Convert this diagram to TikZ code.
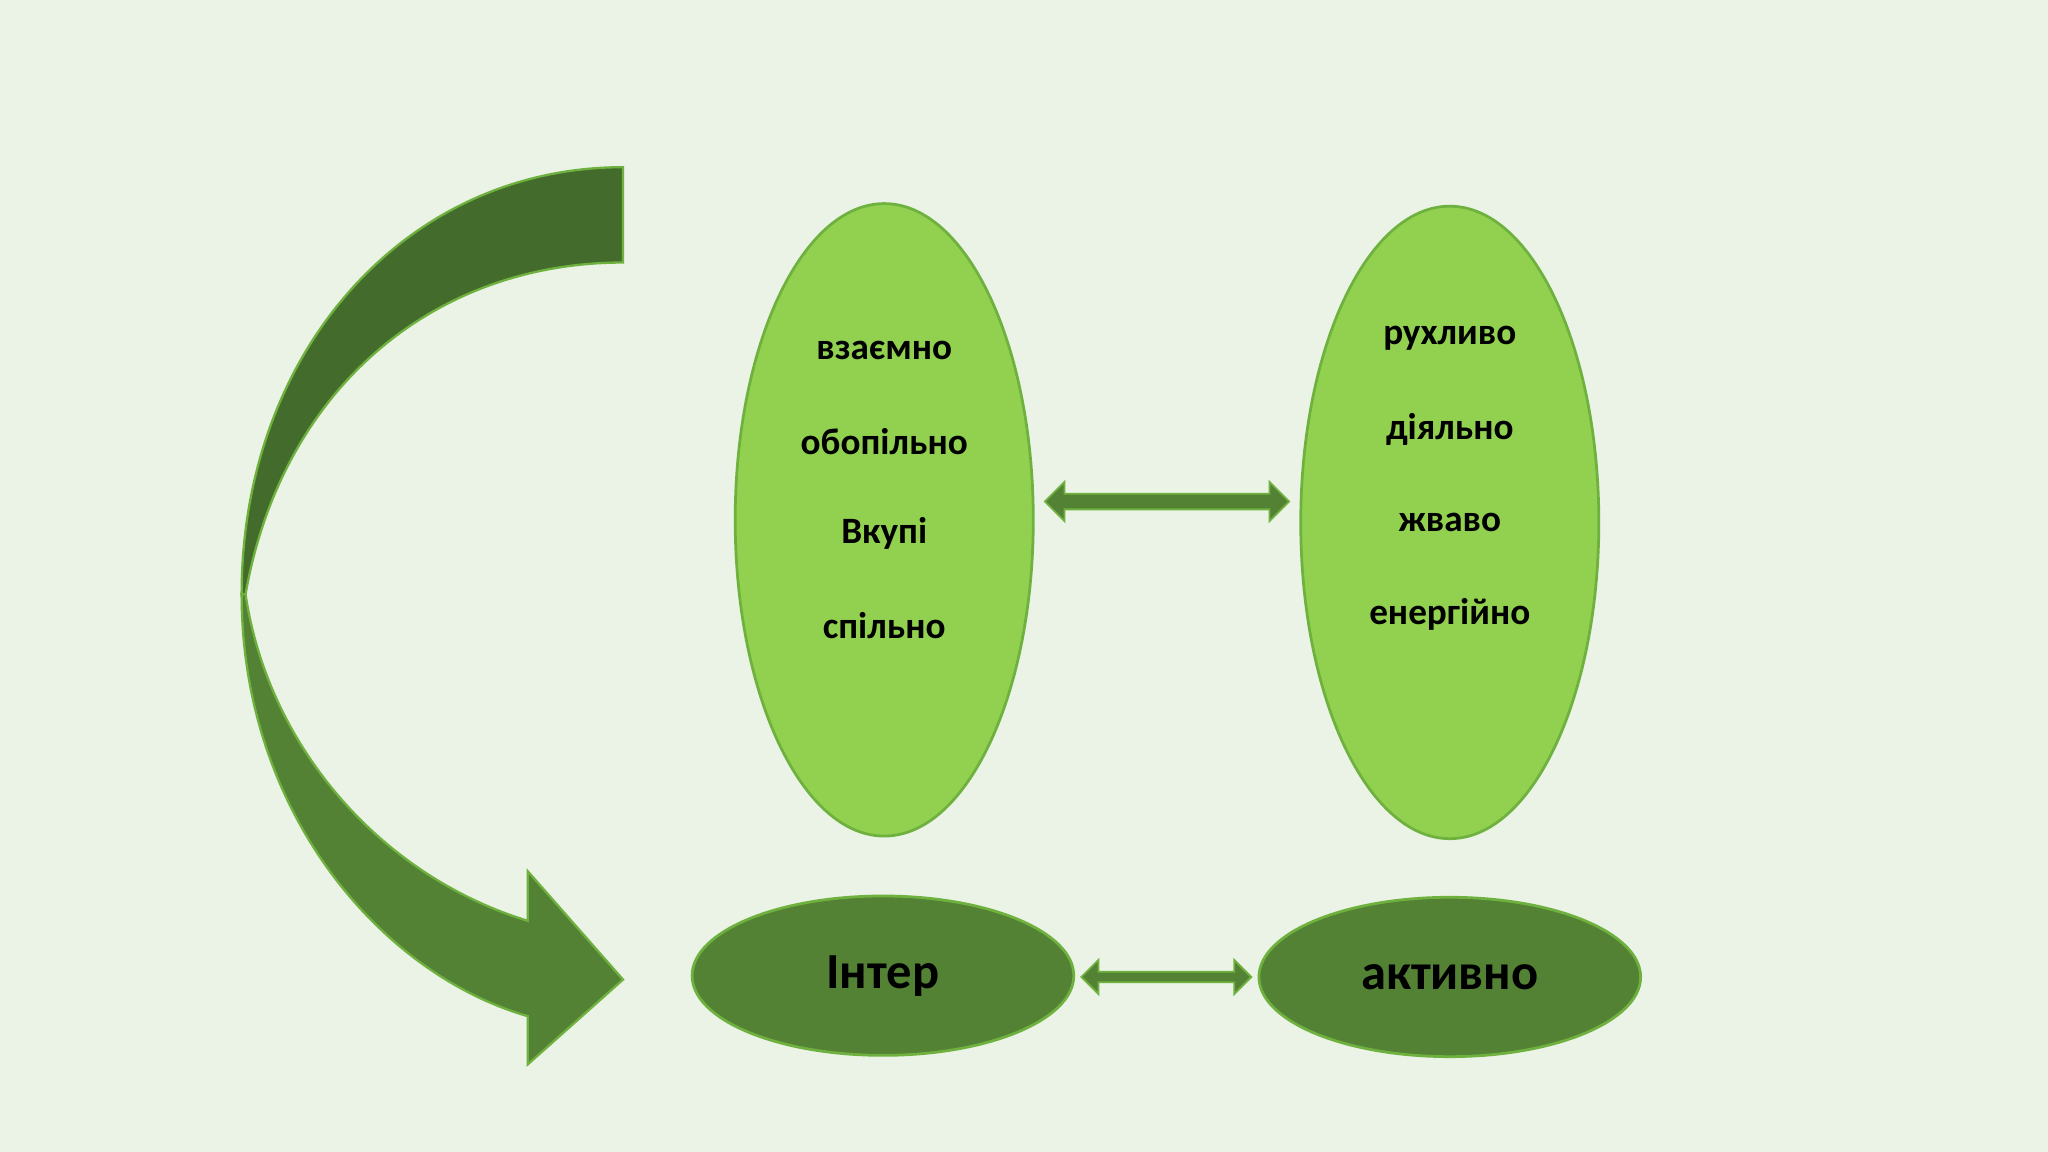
\documentclass[tikz,border=0pt]{standalone}
\usepackage{fontspec}
\setmainfont{Carlito}
\usetikzlibrary{shapes.geometric}
\definecolor{bg}{HTML}{EAF3E5}
\definecolor{lg}{HTML}{92D050}
\definecolor{lgs}{HTML}{6FB13F}
\definecolor{dg}{HTML}{548235}
\definecolor{dk}{HTML}{436B2B}
\begin{document}
\begin{tikzpicture}[x=0.01cm,y=-0.01cm,
  big/.style={ellipse,fill=lg,draw=lgs,line width=0.6pt,minimum width=64.9pt,minimum height=137.7pt,inner sep=0},
  low/.style={ellipse,fill=dg,draw=lgs,line width=0.6pt,minimum width=83.1pt,minimum height=34.7pt,inner sep=0,font=\fontsize{11}{13}\selectfont\bfseries},
  lab/.style={font=\fontsize{8.1}{10}\selectfont\bfseries},
  arr/.style={fill=dg,draw=lgs,line width=0.4pt}]
\fill[bg] (0,0) rectangle (1568,882);
\useasboundingbox (0,0) rectangle (1568,882);
\node[big] (e1) at (677,398) {};
\node[big] (e2) at (1110,400) {};
\node[lab] (a1) at (677,268) {взаємно};
\node[lab] (a2) at (677,338) {обопільно};
\node[lab] (a3) at (677,408) {Вкупі};
\node[lab] (a4) at (677,479) {спільно};
\node[lab] (b1) at (1110,259) {рухливо};
\node[lab] (b2) at (1110,329) {діяльно};
\node[lab] (b3) at (1110,400) {жваво};
\node[lab] (b4) at (1110,470) {енергійно};
\node[low] (l1) at (676,747) {Інтер};
\node[low] (l2) at (1110,748) {активно};
\draw[arr] (800,384) -- (815,369) -- (815,378) -- (972,378) -- (972,369) -- (987,384) -- (972,399) -- (972,390) -- (815,390) -- (815,399) -- cycle;
\draw[arr] (828,748) -- (841,735) -- (841,744) -- (945,744) -- (945,735) -- (958,748) -- (945,761) -- (945,752) -- (841,752) -- (841,761) -- cycle;
\draw[fill=dk,draw=lgs,line width=0.5pt] (477,128) .. controls (310,128) and (185,270) .. (185,455) -- (188,455) .. controls (215,300) and (330,201) .. (477,201) -- cycle;
\draw[fill=dg,draw=lgs,line width=0.5pt] (185,455) .. controls (185,620) and (290,745) .. (404,778) -- (404,815) -- (477,750) -- (404,667) -- (404,705) .. controls (290,670) and (205,570) .. (188,455) -- cycle;
\end{tikzpicture}
\end{document}
